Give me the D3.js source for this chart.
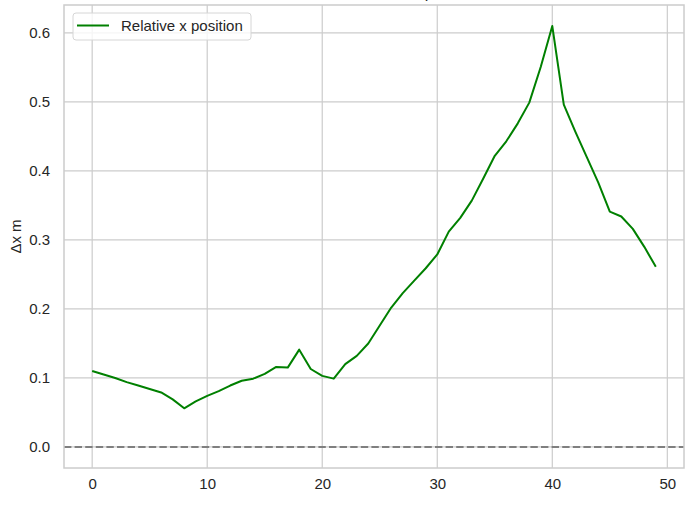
<html>
<head>
    <script src="https://cdn.jsdelivr.net/npm/d3@7"></script>
    <style>
        body { margin: 0; background: white; font-family: "Liberation Sans", Arial, sans-serif; }
        svg { display: block; }
    </style>
</head>
<body>
    <svg id="chart"></svg>
<script>
    // frame index along x
    let frames = d3.range(0, 50);
    // relative x position (m)
    let deltaX = [
        0.110, 0.105, 0.100, 0.094, 0.089, 0.084, 0.079, 0.069, 0.056, 0.066,
        0.074, 0.081, 0.089, 0.096, 0.099, 0.106, 0.116, 0.115, 0.141, 0.113,
        0.103, 0.099, 0.120, 0.132, 0.150, 0.176, 0.202, 0.223, 0.241, 0.259,
        0.279, 0.312, 0.332, 0.357, 0.389, 0.422, 0.443, 0.469, 0.499, 0.551,
        0.610, 0.496, 0.457, 0.420, 0.383, 0.341, 0.334, 0.316, 0.290, 0.261
    ];
    let xTicks = [0, 10, 20, 30, 40, 50];
    let yTicks = [0.0, 0.1, 0.2, 0.3, 0.4, 0.5, 0.6];
    let seriesName = "Relative x position";
    let refLine = 0;

    function drawChart() {
        let width = 695, height = 505;
        let margin = { top: 5, bottom: 37, left: 64, right: 11 };
        let bodyWidth = width - margin.left - margin.right;
        let bodyHeight = height - margin.top - margin.bottom;

        let svg = d3.select("#chart").attr("width", width).attr("height", height);

        // matplotlib-like 5% margins
        let xPad = (d3.max(frames) - d3.min(frames)) * 0.05;
        let yMax = d3.max(deltaX), yMin = Math.min(d3.min(deltaX), refLine);
        let yPad = (yMax - yMin) * 0.05;

        let xScale = d3.scaleLinear()
            .domain([d3.min(frames) - xPad, d3.max(frames) + xPad])
            .range([margin.left, margin.left + bodyWidth]);
        let yScale = d3.scaleLinear()
            .domain([yMin - yPad, yMax + yPad])
            .range([margin.top + bodyHeight, margin.top]);

        // title: in the reference it is clipped by the top edge, only a descender shows
        svg.append("text")
            .attr("x", 415)
            .attr("y", -2)
            .attr("text-anchor", "middle")
            .style("font-size", "16px")
            .style("fill", "#262626")
            .text("Relative x position");

        // grid
        let grid = svg.append("g");
        grid.selectAll(".vgrid").data(xTicks).enter().append("line")
            .attr("x1", d => xScale(d)).attr("x2", d => xScale(d))
            .attr("y1", margin.top).attr("y2", margin.top + bodyHeight)
            .style("stroke", "#cccccc").style("stroke-width", 1.2);
        grid.selectAll(".hgrid").data(yTicks).enter().append("line")
            .attr("x1", margin.left).attr("x2", margin.left + bodyWidth)
            .attr("y1", d => yScale(d)).attr("y2", d => yScale(d))
            .style("stroke", "#cccccc").style("stroke-width", 1.2);

        // zero reference line
        svg.append("line")
            .attr("x1", margin.left).attr("x2", margin.left + bodyWidth)
            .attr("y1", yScale(refLine)).attr("y2", yScale(refLine))
            .style("stroke", "#7f7f7f").style("stroke-width", 2)
            .style("stroke-dasharray", "7.4,3.2");

        // data line
        let line = d3.line()
            .x((d, i) => xScale(frames[i]))
            .y(d => yScale(d));
        svg.append("path")
            .datum(deltaX)
            .attr("d", line)
            .style("fill", "none")
            .style("stroke", "green")
            .style("stroke-width", 2)
            .style("stroke-linejoin", "round");

        // frame
        svg.append("rect")
            .attr("x", margin.left).attr("y", margin.top)
            .attr("width", bodyWidth).attr("height", bodyHeight)
            .style("fill", "none").style("stroke", "#cccccc").style("stroke-width", 1.5);

        // axes (no tick marks, labels only)
        let axisX = d3.axisBottom(xScale).tickValues(xTicks).tickSize(0).tickPadding(10)
            .tickFormat(d3.format("d"));
        let gx = svg.append("g")
            .attr("transform", `translate(0,${margin.top + bodyHeight})`)
            .call(axisX);
        let axisY = d3.axisLeft(yScale).tickValues(yTicks).tickSize(0).tickPadding(14)
            .tickFormat(d3.format(".1f"));
        let gy = svg.append("g")
            .attr("transform", `translate(${margin.left},0)`)
            .call(axisY);
        [gx, gy].forEach(g => {
            g.select(".domain").remove();
            g.selectAll("text")
                .style("font-family", "'Liberation Sans', Arial, sans-serif")
                .style("font-size", "15px")
                .style("fill", "#262626");
        });

        svg.append("text")
            .attr("transform", `translate(21,${margin.top + bodyHeight / 2}) rotate(-90)`)
            .attr("text-anchor", "middle")
            .style("font-size", "15px")
            .style("fill", "#262626")
            .text("Δx m");

        // legend
        let legend = svg.append("g").attr("transform", "translate(73,13)");
        legend.append("rect")
            .attr("width", 178).attr("height", 27).attr("rx", 3)
            .style("fill", "white").style("fill-opacity", 0.8)
            .style("stroke", "#d6d6d6").style("stroke-width", 1);
        legend.append("line")
            .attr("x1", 4).attr("x2", 36).attr("y1", 12.5).attr("y2", 12.5)
            .style("stroke", "green").style("stroke-width", 2);
        legend.append("text")
            .attr("x", 48).attr("y", 18)
            .style("font-size", "15px")
            .style("fill", "#262626")
            .text(seriesName);
    }

    drawChart();
</script>
</body>
</html>
